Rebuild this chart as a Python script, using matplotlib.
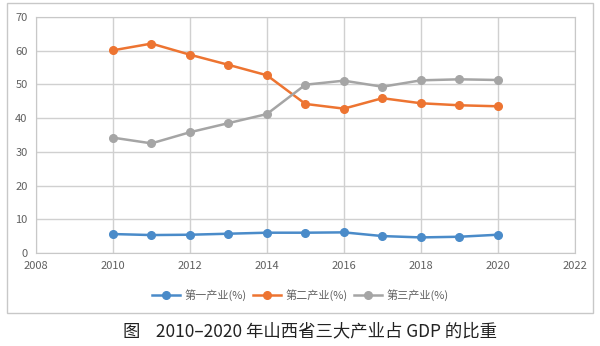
import matplotlib.pyplot as plt
from matplotlib.patches import Rectangle
from matplotlib.lines import Line2D

plt.rcParams['font.family'] = ['Noto Sans CJK SC', 'DejaVu Sans']

years = [2010, 2011, 2012, 2013, 2014, 2015, 2016, 2017, 2018, 2019, 2020]
primary = [5.6, 5.3, 5.4, 5.7, 6.0, 6.0, 6.1, 5.0, 4.6, 4.8, 5.4]
secondary = [60.1, 62.1, 58.8, 55.8, 52.7, 44.2, 42.8, 45.9, 44.4, 43.8, 43.5]
tertiary = [34.2, 32.5, 35.8, 38.5, 41.2, 49.9, 51.1, 49.3, 51.2, 51.5, 51.3]
labels = ['第一产业(%)', '第二产业(%)', '第三产业(%)']
colors = ['#4a8bc9', '#ed7431', '#a5a5a5']
title = '图    2010–2020 年山西省三大产业占 GDP 的比重'

fig = plt.figure(figsize=(6, 3.46), dpi=100)
ax = fig.add_axes([0.06, 0.269, 0.898, 0.682])

for vals, lab, col in zip([primary, secondary, tertiary], labels, colors):
    ax.plot(years, vals, color=col, lw=1.8, marker='o', ms=5.5, label=lab)

ax.set_xlim(2008, 2022)
ax.set_ylim(0, 70)
ax.set_xticks(range(2008, 2023, 2))
ax.set_yticks(range(0, 71, 10))
ax.grid(True, color='#d0d0d0', lw=1)
ax.set_axisbelow(True)
for s in ax.spines.values():
    s.set_color('#c8c8c8')
ax.tick_params(length=0, labelsize=8, colors='#606060', pad=6)

fig.patches.append(Rectangle((0.012, 0.095), 0.976, 0.895, transform=fig.transFigure,
                             fill=False, edgecolor='#c8c8c8', lw=1))

handles = [Line2D([], [], color=c, lw=1.8, marker='o', ms=5.5) for c in colors]
fig.legend(handles, labels, loc='center', bbox_to_anchor=(0.5, 0.147), ncol=3,
           frameon=False, fontsize=8, labelcolor='#606060', handlelength=2.5,
           handletextpad=0.4, columnspacing=0.6)

fig.text(0.205, 0.043, title, ha='left', va='center', fontsize=12.5, color='#222222')

fig.savefig('out.png', dpi=100)
